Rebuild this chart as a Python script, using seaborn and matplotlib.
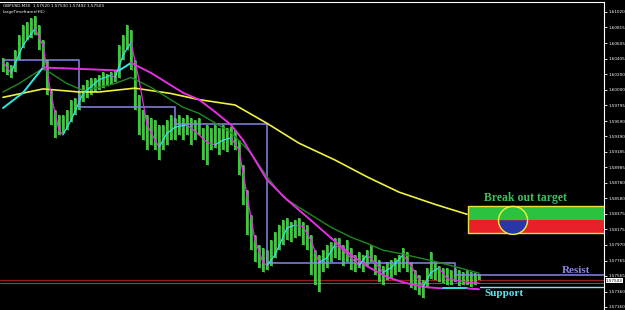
import matplotlib
matplotlib.use("Agg")
import matplotlib.pyplot as plt
import seaborn as sns
import numpy as np
import pandas as pd
from matplotlib.patches import Rectangle, Wedge, Ellipse
from matplotlib.transforms import Affine2D

sns.set_theme(style="dark")
plt.rcParams['font.family'] = ['DejaVu Sans']

# ---------------- data ----------------
symbol_header = "GBPUSD,M30  1.57520 1.57530 1.57492 1.57503"
indicator_header = "LargeTimeframe(H1)"
last_price = 1.57503

bar_high = [1.6041, 1.6036, 1.6032, 1.6052, 1.6071, 1.6085, 1.6088, 1.6094, 1.6097, 1.6085,
            1.6065, 1.6039, 1.5999, 1.5973, 1.5967, 1.5967, 1.5973, 1.5987, 1.5989, 1.5997,
            1.6006, 1.6013, 1.6015, 1.6015, 1.6019, 1.6023, 1.6020, 1.6023, 1.6026, 1.6058,
            1.6071, 1.6085, 1.6078, 1.6039, 1.5993, 1.5973, 1.5967, 1.5963, 1.5960, 1.5954,
            1.5954, 1.5960, 1.5967, 1.5963, 1.5967, 1.5963, 1.5967, 1.5963, 1.5960, 1.5963,
            1.5950, 1.5954, 1.5950, 1.5954, 1.5950, 1.5954, 1.5950, 1.5951, 1.5947, 1.5934,
            1.5901, 1.5869, 1.5836, 1.5810, 1.5797, 1.5793, 1.5790, 1.5803, 1.5814, 1.5823,
            1.5829, 1.5832, 1.5827, 1.5829, 1.5832, 1.5827, 1.5823, 1.5810, 1.5790, 1.5784,
            1.5790, 1.5797, 1.5801, 1.5806, 1.5806, 1.5797, 1.5803, 1.5793, 1.5784, 1.5788,
            1.5784, 1.5790, 1.5797, 1.5784, 1.5777, 1.5770, 1.5774, 1.5777, 1.5780, 1.5784,
            1.5793, 1.5788, 1.5774, 1.5764, 1.5757, 1.5751, 1.5767, 1.5788, 1.5774, 1.5770,
            1.5767, 1.5767, 1.5764, 1.5767, 1.5764, 1.5761, 1.5764, 1.5761, 1.5760, 1.5759]
bar_low = [1.6023, 1.6019, 1.6015, 1.6023, 1.6039, 1.6054, 1.6065, 1.6067, 1.6071, 1.6052,
           1.6026, 1.5993, 1.5954, 1.5937, 1.5941, 1.5943, 1.5947, 1.5958, 1.5967, 1.5973,
           1.5984, 1.5989, 1.5993, 1.5997, 1.5999, 1.6002, 1.6005, 1.6007, 1.6010, 1.6015,
           1.6039, 1.6052, 1.6026, 1.5973, 1.5941, 1.5934, 1.5921, 1.5928, 1.5921, 1.5908,
           1.5921, 1.5928, 1.5934, 1.5934, 1.5941, 1.5934, 1.5941, 1.5928, 1.5934, 1.5941,
           1.5908, 1.5901, 1.5921, 1.5924, 1.5914, 1.5921, 1.5918, 1.5928, 1.5921, 1.5888,
           1.5849, 1.5810, 1.5790, 1.5774, 1.5767, 1.5761, 1.5764, 1.5770, 1.5780, 1.5790,
           1.5797, 1.5803, 1.5801, 1.5806, 1.5808, 1.5797, 1.5790, 1.5757, 1.5744, 1.5735,
           1.5761, 1.5767, 1.5774, 1.5780, 1.5777, 1.5770, 1.5774, 1.5764, 1.5761, 1.5767,
           1.5761, 1.5770, 1.5774, 1.5757, 1.5748, 1.5744, 1.5751, 1.5753, 1.5757, 1.5761,
           1.5767, 1.5761, 1.5740, 1.5738, 1.5731, 1.5727, 1.5740, 1.5753, 1.5751, 1.5748,
           1.5747, 1.5745, 1.5744, 1.5748, 1.5743, 1.5744, 1.5744, 1.5742, 1.5745, 1.5751]

yellow_idx = [0, 10, 19, 24, 33, 42, 49, 58, 66, 74, 83, 91, 99, 108, 116]
yellow_val = [1.5990, 1.6001, 1.5997, 1.5997, 1.6002, 1.5995, 1.5987, 1.5980, 1.5956,
              1.5930, 1.5908, 1.5886, 1.5866, 1.5850, 1.5837]

green_idx = [0, 4, 10, 16, 20, 24, 28, 32, 37, 41, 45, 49, 57, 62, 66, 70, 74, 78, 82,
             87, 91, 95, 99, 109, 119]
green_val = [1.5997, 1.6008, 1.6028, 1.6008, 1.5999, 1.6003, 1.6008, 1.6016, 1.6003,
             1.5990, 1.5977, 1.5969, 1.5944, 1.5917, 1.5886, 1.5860, 1.5846, 1.5833,
             1.5820, 1.5807, 1.5799, 1.5790, 1.5786, 1.5774, 1.5760]

slow_idx = [0, 5, 10, 15, 20, 25, 29, 32, 37, 41, 45, 49, 53, 57, 60, 66, 71, 77, 82,
            87, 91, 96, 100, 105, 110, 116, 119]
slow_val = [1.5976, 1.5996, 1.6029, 1.6028, 1.6027, 1.6026, 1.6025, 1.6035, 1.6022,
            1.6009, 1.5996, 1.5987, 1.5971, 1.5954, 1.5934, 1.5882, 1.5856, 1.5829,
            1.5806, 1.5784, 1.5769, 1.5755, 1.5748, 1.5742, 1.5740, 1.5740, 1.5739]

fast_idx = [0, 2, 5, 8, 10, 12, 14, 15, 17, 20, 24, 27, 28, 30, 32, 34, 36, 38, 39, 41,
            43, 46, 49, 51, 53, 55, 57, 59, 61, 63, 65, 66, 68, 71, 73, 75, 77, 79, 81,
            83, 85, 87, 89, 91, 93, 95, 97, 100, 102, 105, 107, 109, 111, 113, 116, 119]
fast_val = [1.6036, 1.6022, 1.6058, 1.6080, 1.6058, 1.5993, 1.5947, 1.5941, 1.5960,
            1.5995, 1.6013, 1.6019, 1.6016, 1.6045, 1.6062, 1.6013, 1.5954, 1.5934,
            1.5925, 1.5943, 1.5951, 1.5954, 1.5941, 1.5931, 1.5928, 1.5934, 1.5937,
            1.5921, 1.5862, 1.5803, 1.5774, 1.5770, 1.5784, 1.5819, 1.5823, 1.5821,
            1.5803, 1.5774, 1.5780, 1.5797, 1.5790, 1.5780, 1.5770, 1.5784, 1.5774,
            1.5761, 1.5767, 1.5784, 1.5770, 1.5742, 1.5761, 1.5767, 1.5753, 1.5751,
            1.5748, 1.5747]

h1_step_idx = [0, 19, 43, 66, 113, 151]
h1_step_val = [1.6039, 1.5978, 1.5955, 1.5773, 1.5757, 1.5757]

resist_level = 1.5757
support_level = 1.5742
bid_line = 1.5751
ask_line = 1.5747

target_top = 1.5848
target_mid = 1.5829
target_bottom = 1.5812
target_start = 116.25

tick_labels = ["1.61020", "1.60815", "1.60605", "1.60405", "1.60200", "1.60000",
               "1.59795", "1.59590", "1.59390", "1.59185", "1.58985", "1.58780",
               "1.58580", "1.58375", "1.58175", "1.57970", "1.57765", "1.57565",
               "1.57360", "1.57160"]

# ---------------- figure ----------------
W, H = 625, 310
fig = plt.figure(figsize=(W / 100, H / 100), dpi=100, facecolor="black")
ax = fig.add_axes([0, 0, 604 / W, 308 / H])
ax.set_facecolor("black")
x_max = 150.25
ax.set_xlim(-0.75, x_max)
ax.set_ylim(1.57118, 1.61147)

# horizontal full-width lines
ax.axhline(bid_line, color="#9a1b1b", lw=0.9, zorder=1)
ax.axhline(ask_line, color="#5a5a5a", lw=0.8, zorder=1)

# bars
idx = np.arange(len(bar_high))
ax.vlines(idx, bar_low, bar_high, color="#2fd02f", lw=1.5, zorder=2)
ax.vlines(idx + 0.25, bar_low, bar_high, color="#9cf59c", lw=0.4, zorder=2)

# moving averages
sns.lineplot(x=yellow_idx, y=yellow_val, ax=ax, color="#f0f040", lw=1.2, sort=False, zorder=4)
sns.lineplot(x=green_idx, y=green_val, ax=ax, color="#1f8a1f", lw=1.0, sort=False, zorder=4)

def two_color(xs, ys, lw, z):
    for k in range(len(xs) - 1):
        c = "#33e6e6" if ys[k + 1] >= ys[k] else "#e030e0"
        ax.plot(xs[k:k + 2], ys[k:k + 2], color=c, lw=lw, zorder=z,
                solid_capstyle="round")

two_color(slow_idx, slow_val, 1.4, 5)
two_color(fast_idx, fast_val, 0.9, 6)

# higher timeframe step line
ax.plot(h1_step_idx, h1_step_val, drawstyle="steps-post", color="#8a86e6", lw=1.1, zorder=3)

# support line
ax.plot([119.25, x_max], [support_level, support_level], color="#7fe8f0", lw=1.0, zorder=3)

# target box
ax.add_patch(Rectangle((target_start, target_mid), x_max + 2 - target_start,
                       target_top - target_mid, facecolor="#2bc23f", edgecolor="none", zorder=7))
ax.add_patch(Rectangle((target_start, target_bottom), x_max + 2 - target_start,
                       target_mid - target_bottom, facecolor="#e8202a", edgecolor="none", zorder=7))
ax.add_patch(Rectangle((target_start, target_bottom), x_max + 2 - target_start,
                       target_top - target_bottom, facecolor="none", edgecolor="#e8e040",
                       lw=1.0, zorder=8))
cx, cy = 127.5, target_mid
ew, eh = 7.25, 0.00366
tr = Affine2D().scale(ew / 2, eh / 2).translate(cx, cy) + ax.transData
ax.add_patch(Wedge((0, 0), 1, 180, 360, facecolor="#2a35a8", edgecolor="none",
                   transform=tr, zorder=9))
ax.add_patch(Ellipse((cx, cy), ew, eh, facecolor="none", edgecolor="#f0f040", lw=1.0, zorder=10))

# texts
serif = ["Liberation Serif", "DejaVu Serif"]
ax.text(130.5, 1.5858, "Break out target", color="#3fbf5a", fontsize=8.5, fontweight="bold",
        family=serif, ha="center", va="center", zorder=11)
ax.text(143.25, 1.5764, "Resist", color="#8a86e6", fontsize=8, fontweight="bold",
        family=serif, ha="center", va="center", zorder=11)
ax.text(125.25, 1.5733, "Support", color="#5fe6ef", fontsize=8, fontweight="bold",
        family=serif, ha="center", va="center", zorder=11)

fig.text(3 / W, 1 - 6 / H, symbol_header, color="white", fontsize=3.0, va="center")
fig.text(3 / W, 1 - 12 / H, indicator_header, color="white", fontsize=3.0, va="center")

# axes styling
tick_vals = [float(t) for t in tick_labels]
ax.set_xticks([])
ax.yaxis.tick_right()
ax.set_yticks(tick_vals)
ax.set_yticklabels(tick_labels)
ax.tick_params(axis="y", colors="white", labelsize=3.0, length=2.2, width=0.6, pad=1.0,
               right=True, left=False)
for s in ["left", "bottom"]:
    ax.spines[s].set_visible(False)
for s in ["top", "right"]:
    ax.spines[s].set_visible(True)
    ax.spines[s].set_color("white")
    ax.spines[s].set_linewidth(0.8)
ax.grid(False)
ax.set_xlabel("")
ax.set_ylabel("")

ax.annotate(f"{last_price:.5f}", xy=(1.0, last_price), xycoords=("axes fraction", "data"),
            xytext=(1.5, 0), textcoords="offset points", fontsize=3.0, color="black",
            va="center", ha="left",
            bbox=dict(boxstyle="square,pad=0.1", facecolor="white", edgecolor="none"),
            annotation_clip=False)

fig.savefig("out.png", dpi=100, facecolor="black")
